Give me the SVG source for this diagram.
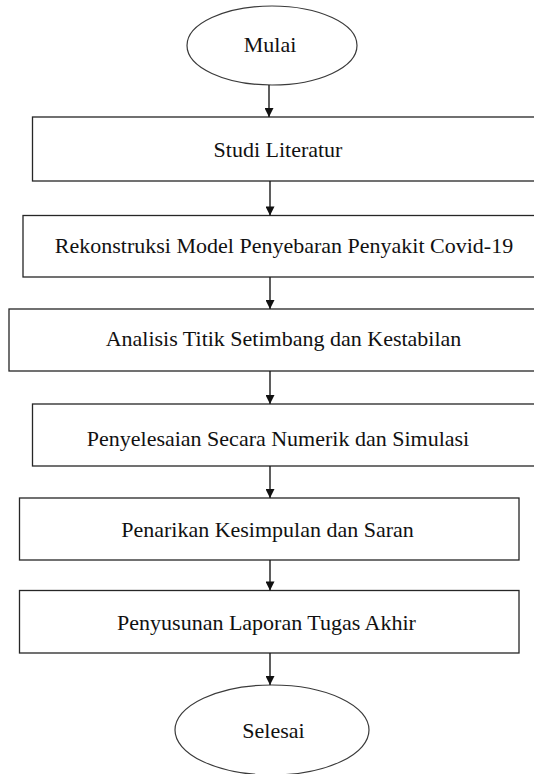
<svg xmlns="http://www.w3.org/2000/svg" width="534" height="774" viewBox="0 0 534 774">
<style>
.box{fill:#ffffff;stroke:#262626;stroke-width:1.3}
.term{fill:#ffffff;stroke:#3a3a3a;stroke-width:1.2}
.lbl{font-family:"Liberation Serif","Times New Roman",serif;font-size:22px;fill:#111111;text-anchor:middle}
.conn{stroke:#1a1a1a;stroke-width:1.4;fill:none;marker-end:url(#ah)}
</style>
<defs>
<marker id="ah" viewBox="0 0 10 10" refX="10" refY="5" markerWidth="10" markerHeight="9" markerUnits="userSpaceOnUse" orient="auto">
<path d="M0,0 L10,5 L0,10 z" fill="#111111"/>
</marker>
</defs>
<rect x="0" y="0" width="534" height="774" fill="#ffffff"/>
<g id="mulai">
<ellipse class="term" cx="272" cy="45.5" rx="85" ry="39.5"/>
<text class="lbl" x="270" y="52">Mulai</text>
</g>
<g id="studi-literatur">
<rect class="box" x="32.5" y="117" width="510" height="64"/>
<text class="lbl" x="278" y="156.5">Studi Literatur</text>
</g>
<g id="rekonstruksi">
<rect class="box" x="23" y="215.5" width="520" height="61.5"/>
<text class="lbl" x="284" y="253">Rekonstruksi Model Penyebaran Penyakit Covid-19</text>
</g>
<g id="analisis">
<rect class="box" x="9" y="309" width="535" height="62"/>
<text class="lbl" x="283.5" y="345.5">Analisis Titik Setimbang dan Kestabilan</text>
</g>
<g id="penyelesaian">
<rect class="box" x="32.5" y="404" width="510" height="62"/>
<text class="lbl" x="278" y="445.5">Penyelesaian Secara Numerik dan Simulasi</text>
</g>
<g id="penarikan">
<rect class="box" x="19.5" y="498" width="499.5" height="62"/>
<text class="lbl" x="267.5" y="537">Penarikan Kesimpulan dan Saran</text>
</g>
<g id="penyusunan">
<rect class="box" x="19.5" y="590.5" width="499.5" height="62.5"/>
<text class="lbl" x="266.5" y="629.5">Penyusunan Laporan Tugas Akhir</text>
</g>
<g id="selesai">
<ellipse class="term" cx="272" cy="730" rx="97" ry="45"/>
<text class="lbl" x="273.5" y="738">Selesai</text>
</g>
<g id="connectors">
<line class="conn" x1="269" y1="85" x2="269" y2="117"/>
<line class="conn" x1="270" y1="181" x2="270" y2="215.5"/>
<line class="conn" x1="270" y1="277" x2="270" y2="309"/>
<line class="conn" x1="270" y1="371" x2="270" y2="404"/>
<line class="conn" x1="270" y1="466" x2="270" y2="498"/>
<line class="conn" x1="270" y1="560" x2="270" y2="590.5"/>
<line class="conn" x1="270" y1="653" x2="270" y2="685"/>
</g>
</svg>
